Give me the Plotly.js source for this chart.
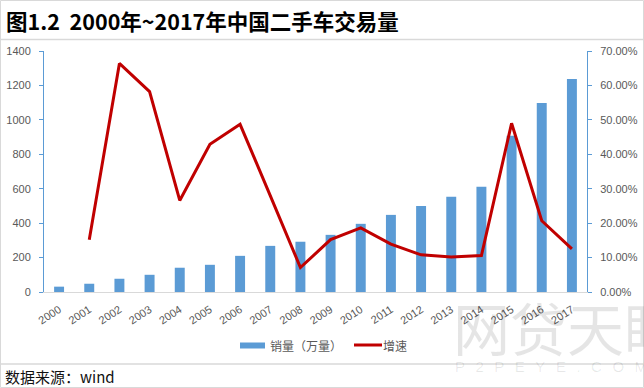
<!DOCTYPE html>
<html>
<head>
<meta charset="utf-8">
<script src="https://cdn.plot.ly/plotly-3.0.1.min.js"></script>
<style>
html,body{margin:0;padding:0;background:#fff;}
#chart{width:644px;height:388px;}
</style>
</head>
<body>
<div id="chart"></div>
<script>
// ---- data ----
const years = ['2000','2001','2002','2003','2004','2005','2006','2007','2008','2009','2010','2011','2012','2013','2014','2015','2016','2017'];
const sales = [31, 48, 77, 100, 141, 158, 210, 268, 292, 332, 396, 448, 500, 553, 611, 907, 1098, 1237];
const growth = [null, 0.152, 0.664, 0.582, 0.266, 0.429, 0.487, 0.280, 0.071, 0.152, 0.186, 0.139, 0.108, 0.102, 0.106, 0.490, 0.207, 0.125];
const seriesNames = ['销量（万量）', '增速'];
const titleText = '图1.2  2000年~2017年中国二手车交易量';
const sourceText = '数据来源：wind';
const watermarkText = '网贷天眼';
const watermarkSub = 'P2PEYE.COM';

// ---- layout helpers (pixel -> paper) ----
const W = 644, H = 388;
const L = 44, R = 587, T = 51, B = 292;
const px = X => (X - L) / (R - L);
const py = Y => (B - Y) / (B - T);

const font = 'Liberation Sans, Noto Sans CJK SC, sans-serif';
const cjk = 'Noto Sans CJK SC, Liberation Sans, sans-serif';

const traces = [
  {
    type: 'bar', x: years, y: sales, name: seriesNames[0],
    marker: {color: '#5b9bd5'}, yaxis: 'y', hoverinfo: 'skip'
  },
  {
    type: 'scatter', mode: 'lines', x: years, y: growth, name: seriesNames[1],
    line: {color: '#c00000', width: 3}, yaxis: 'y2', connectgaps: false, hoverinfo: 'skip'
  }
];

const annotations = [
  // watermark
  {xref: 'paper', yref: 'paper', x: px(451), y: py(326), xanchor: 'left', yanchor: 'middle',
   text: watermarkText, showarrow: false, font: {family: cjk, size: 57, color: 'rgba(0,0,0,0.10)'}},
  {xref: 'paper', yref: 'paper', x: px(453), y: py(366), xanchor: 'left', yanchor: 'middle',
   text: watermarkSub.split('').join('\u2002\u2009'), showarrow: false,
   font: {family: font, size: 15, color: 'rgba(0,0,0,0.09)'}},
  {xref: 'paper', yref: 'paper', x: px(268), y: py(345.5), xanchor: 'left', yanchor: 'middle',
   text: seriesNames[0], showarrow: false, font: {family: cjk, size: 12, color: '#595959'}},
  {xref: 'paper', yref: 'paper', x: px(381), y: py(345.5), xanchor: 'left', yanchor: 'middle',
   text: seriesNames[1], showarrow: false, font: {family: cjk, size: 12, color: '#595959'}},
  {xref: 'paper', yref: 'paper', x: px(3), y: py(376), xanchor: 'left', yanchor: 'middle',
   text: sourceText, showarrow: false, font: {family: cjk, size: 15, color: '#111111'}}
];

const shapes = [
  // outer border
  {type: 'rect', xref: 'paper', yref: 'paper', x0: px(0.5), x1: px(643.5), y0: py(387.5), y1: py(0.5),
   line: {color: '#d9d9d9', width: 1}},
  {type: 'line', xref: 'paper', yref: 'paper', x0: px(0), x1: px(644), y0: py(39.5), y1: py(39.5),
   line: {color: '#d9d9d9', width: 1.5}},
  {type: 'line', xref: 'paper', yref: 'paper', x0: px(0), x1: px(644), y0: py(364), y1: py(364),
   line: {color: '#d9d9d9', width: 1.5}},
  // legend symbols
  {type: 'rect', xref: 'paper', yref: 'paper', x0: px(240), x1: px(265), y0: py(348.5), y1: py(342.5),
   fillcolor: '#5b9bd5', line: {width: 0}},
  {type: 'line', xref: 'paper', yref: 'paper', x0: px(354), x1: px(382), y0: py(345), y1: py(345),
   line: {color: '#c00000', width: 3}}
];

const layout = {
  width: W, height: H,
  margin: {l: L, r: W - R, t: T, b: H - B, pad: 0},
  paper_bgcolor: '#ffffff', plot_bgcolor: '#ffffff',
  showlegend: false,
  bargap: 0.67,
  title: {text: titleText, x: 6 / W, xanchor: 'left', xref: 'container', y: 1 - 22.5 / H, yref: 'container', yanchor: 'middle',
          font: {family: cjk, size: 21.5, color: '#000000', weight: 'bold'}},
  xaxis: {
    type: 'category', showgrid: false, zeroline: false, automargin: false,
    showline: true, linecolor: '#d9d9d9', linewidth: 1,
    ticks: 'outside', ticklen: 6, tickcolor: 'rgba(0,0,0,0)', tickangle: -33,
    tickfont: {family: font, size: 11, color: '#595959'}
  },
  yaxis: {
    range: [0, 1400], dtick: 200, showgrid: false, zeroline: false,
    showline: true, linecolor: '#5b9bd5', linewidth: 1,
    ticks: 'outside', ticklen: 4, tickcolor: '#5b9bd5', ticklabelstandoff: 6,
    tickfont: {family: font, size: 11, color: '#595959'}
  },
  yaxis2: {
    range: [0, 0.7], dtick: 0.1, tickformat: '.2%', overlaying: 'y', side: 'right',
    showgrid: false, zeroline: false,
    showline: true, linecolor: '#5b9bd5', linewidth: 1,
    ticks: 'outside', ticklen: 4, tickcolor: '#5b9bd5', ticklabelstandoff: 6,
    tickfont: {family: font, size: 11, color: '#595959'}
  },
  annotations: annotations,
  shapes: shapes
};

Plotly.newPlot('chart', traces, layout, {staticPlot: true, displayModeBar: false});
</script>
</body>
</html>
